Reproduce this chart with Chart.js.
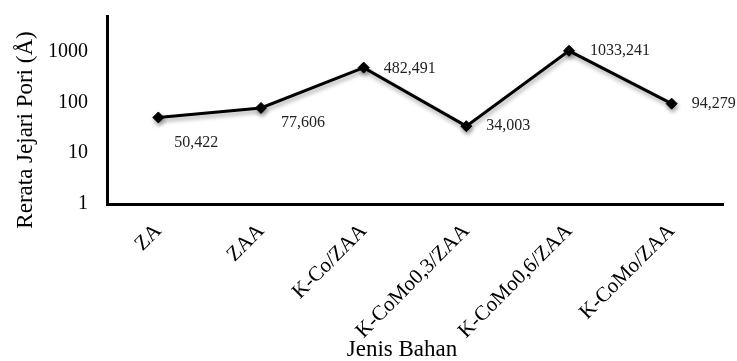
<!DOCTYPE html>
<html>
<head>
<meta charset="utf-8">
<script src="https://cdn.jsdelivr.net/npm/chart.js@4/dist/chart.umd.min.js"></script>
<style>
  html, body { margin: 0; padding: 0; background: #fff; }
  canvas { display: block; }
</style>
</head>
<body>
<canvas id="chart" width="737" height="361"></canvas>
<script>
// Material names (x categories)
const categories = ['ZA', 'ZAA', 'K-Co/ZAA', 'K-CoMo0,3/ZAA', 'K-CoMo0,6/ZAA', 'K-CoMo/ZAA'];
// Mean pore radius in Å
const poreRadius = [50.422, 77.606, 482.491, 34.003, 1033.241, 94.279];
// Printed value labels (comma decimal)
const valueLabels = ['50,422', '77,606', '482,491', '34,003', '1033,241', '94,279'];
// Log-axis ticks
const yTicks = [1, 10, 100, 1000];

const SERIF = '"Liberation Serif", "Times New Roman", serif';

// Soft drop shadow under the line and markers
const shadowPlugin = {
  id: 'lineShadow',
  beforeDatasetsDraw(chart) {
    const ctx = chart.ctx;
    ctx.save();
    ctx.shadowColor = 'rgba(0,0,0,0.35)';
    ctx.shadowBlur = 4;
    ctx.shadowOffsetX = 1;
    ctx.shadowOffsetY = 3;
  },
  afterDatasetsDraw(chart) {
    chart.ctx.restore();
  }
};

// Value labels placed to the right of each point
const valueLabelPlugin = {
  id: 'valueLabels',
  afterDatasetsDraw(chart, args, opts) {
    const ctx = chart.ctx;
    const meta = chart.getDatasetMeta(0);
    ctx.save();
    ctx.font = opts.font;
    ctx.fillStyle = opts.color;
    ctx.textAlign = 'left';
    ctx.textBaseline = 'middle';
    meta.data.forEach((pt, i) => {
      const off = opts.offsets[i] || [18, 0];
      ctx.fillText(valueLabels[i], pt.x + off[0], pt.y + off[1]);
    });
    ctx.restore();
  }
};

// Axis titles
const axisTitlePlugin = {
  id: 'axisTitles',
  afterDraw(chart, args, opts) {
    const ctx = chart.ctx;
    const a = chart.chartArea;
    ctx.save();
    ctx.fillStyle = opts.color;
    ctx.font = opts.font;
    ctx.textAlign = 'center';
    ctx.textBaseline = 'middle';
    // x title
    ctx.fillText(opts.xText, (a.left + a.right) / 2 + opts.xShift, opts.xY);
    // y title
    ctx.translate(opts.yX, (a.top + a.bottom) / 2 + opts.yShift);
    ctx.rotate(-Math.PI / 2);
    ctx.fillText(opts.yText, 0, 0);
    ctx.restore();
  }
};

new Chart(document.getElementById('chart'), {
  type: 'line',
  data: {
    labels: categories,
    datasets: [{
      data: poreRadius,
      borderColor: '#000',
      backgroundColor: '#000',
      borderWidth: 3,
      pointStyle: 'rectRot',
      pointRadius: 5.5,
      pointBackgroundColor: '#000',
      pointBorderColor: '#000',
      pointBorderWidth: 1,
      tension: 0,
      fill: false
    }]
  },
  options: {
    responsive: false,
    animation: false,
    layout: { padding: { left: 0, right: 14, top: 16, bottom: 0 } },
    plugins: {
      legend: { display: false },
      tooltip: { enabled: false },
      valueLabels: {
        font: '16px ' + SERIF,
        color: '#222',
        offsets: [[16, 25], [20, 15], [20, 1], [20, 0], [21, 0], [20, 0]]
      },
      axisTitles: {
        font: '23px ' + SERIF,
        color: '#000',
        xText: 'Jenis Bahan',
        xShift: -13,
        xY: 350,
        yText: 'Rerata Jejari Pori (Å)',
        yX: 26,
        yShift: 20
      }
    },
    scales: {
      x: {
        type: 'category',
        offset: true,
        grid: { display: false, drawTicks: false },
        border: { display: true, color: '#000', width: 3 },
        ticks: {
          autoSkip: false,
          maxRotation: 45,
          minRotation: 45,
          padding: 15,
          color: '#000',
          font: { family: SERIF, size: 21 }
        },
        afterFit(scale) {
          scale.height = 157;
          scale.paddingLeft = 0;
          scale.paddingRight = 0;
        }
      },
      y: {
        type: 'logarithmic',
        min: 1,
        max: 5000,
        grid: { display: false, drawTicks: false },
        border: { display: true, color: '#000', width: 3 },
        afterBuildTicks(scale) {
          scale.ticks = yTicks.map(v => ({ value: v }));
        },
        ticks: {
          padding: 19,
          color: '#000',
          font: { family: SERIF, size: 20 },
          callback: (v) => String(v)
        },
        afterFit(scale) {
          scale.width = 107;
          scale.paddingTop = 0;
          scale.paddingBottom = 0;
        }
      }
    }
  },
  plugins: [shadowPlugin, valueLabelPlugin, axisTitlePlugin]
});
</script>
</body>
</html>
